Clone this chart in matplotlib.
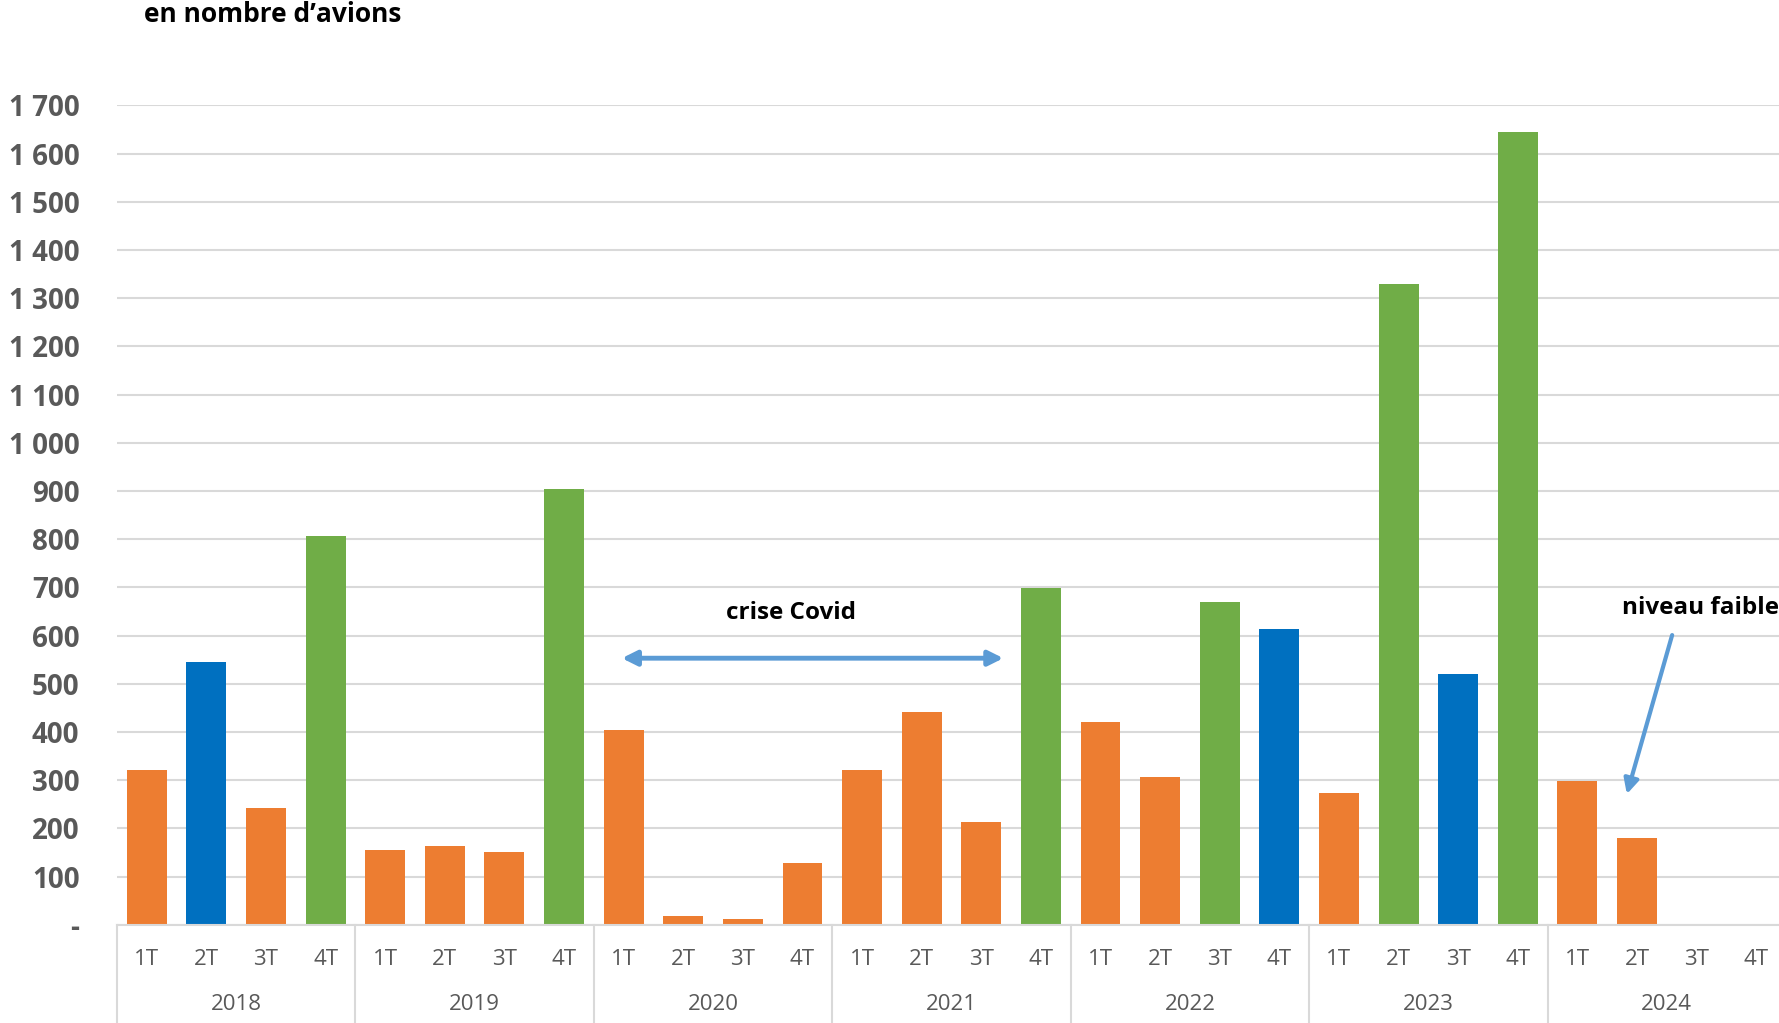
#!/usr/bin/env python
import numpy as np
import matplotlib.pyplot as plt
from matplotlib import transforms

ORANGE = "#ED7D31"
BLUE = "#0070C0"
GREEN = "#70AD47"
ARROW = "#5B9BD5"
GRID = "#D9D9D9"
LABEL = "#595959"

years = ["2018", "2019", "2020", "2021", "2022", "2023", "2024"]
quarters = ["1T", "2T", "3T", "4T"]

# nombre d'avions par trimestre
deliveries = [322, 546, 243, 806,
              155, 164, 151, 904,
              403, 18, 12, 128,
              320, 442, 214, 699,
              420, 307, 670, 613,
              274, 1330, 520, 1645,
              299, 180, None, None]

bar_kind = ["o", "b", "o", "g",
            "o", "o", "o", "g",
            "o", "o", "o", "o",
            "o", "o", "o", "g",
            "o", "o", "g", "b",
            "o", "g", "b", "g",
            "o", "o", "o", "o"]

yticks = np.arange(0, 1800, 100)
ytick_labels = ["-"] + ["{:,}".format(v).replace(",", " ") for v in yticks[1:]]


def set_font():
    plt.rcParams["font.family"] = ["Open Sans", "DejaVu Sans"]


def main():
    set_font()
    fig = plt.figure(figsize=(17.79, 10.23), dpi=100)
    ax = fig.add_axes([117 / 1779, 0.0961, 1669 / 1779, 0.8008])

    colors = {"o": ORANGE, "b": BLUE, "g": GREEN}
    n = len(deliveries)
    x = np.arange(n)
    for xi, v, k in zip(x, deliveries, bar_kind):
        if v is None:
            continue
        ax.bar(xi, v, width=0.67, color=colors[k], zorder=3)

    ax.set_xlim(-0.5, n - 0.5)
    ax.set_ylim(0, 1700)
    ax.set_yticks(yticks)
    ax.set_yticklabels(ytick_labels, fontsize=20, fontweight="bold", color=LABEL)
    ax.tick_params(axis="y", length=0, pad=27)
    ax.set_xticks([])
    ax.yaxis.grid(True, color=GRID, linewidth=1.5, zorder=0)
    for s in ["top", "right", "left"]:
        ax.spines[s].set_visible(False)
    ax.spines["bottom"].set_color(GRID)
    ax.spines["bottom"].set_linewidth(1.5)
    ax.spines["bottom"].set_zorder(4)

    # axe des abscisses a deux niveaux
    trans = transforms.blended_transform_factory(ax.transData, ax.transAxes)
    for i in range(n):
        ax.text(i, -0.042, quarters[i % 4], transform=trans, ha="center", va="center",
                fontsize=16, color=LABEL, clip_on=False)
    for j, y in enumerate(years):
        ax.text(4 * j + 1.5, -0.097, y, transform=trans, ha="center", va="center",
                fontsize=16, color=LABEL, clip_on=False)
    for j in range(len(years) + 1):
        ax.plot([4 * j - 0.5] * 2, [0, -0.12], transform=trans, color=GRID,
                linewidth=1.5, clip_on=False)

    fig.text(144 / 1779, 1 - 14 / 1023, "en nombre d\u2019avions", fontsize=19,
             fontweight="bold", ha="left", va="center")

    # annotations
    ax.annotate("", xy=(7.97, 553), xytext=(14.37, 553),
                arrowprops=dict(arrowstyle="<|-|>", color=ARROW, lw=3.5,
                                mutation_scale=22, shrinkA=0, shrinkB=0), zorder=5)
    ax.text(10.81, 646, "crise Covid", fontsize=17.5, fontweight="bold",
            ha="center", va="center", zorder=5)
    ax.annotate("", xy=(24.83, 271), xytext=(25.59, 601),
                arrowprops=dict(arrowstyle="-|>", color=ARROW, lw=3,
                                mutation_scale=22, shrinkA=0, shrinkB=0), zorder=5)
    ax.text(24.75, 657, "niveau faible", fontsize=17.5, fontweight="bold",
            ha="left", va="center", zorder=5, clip_on=False)

    fig.savefig("out.png", dpi=100)


if __name__ == "__main__":
    main()
